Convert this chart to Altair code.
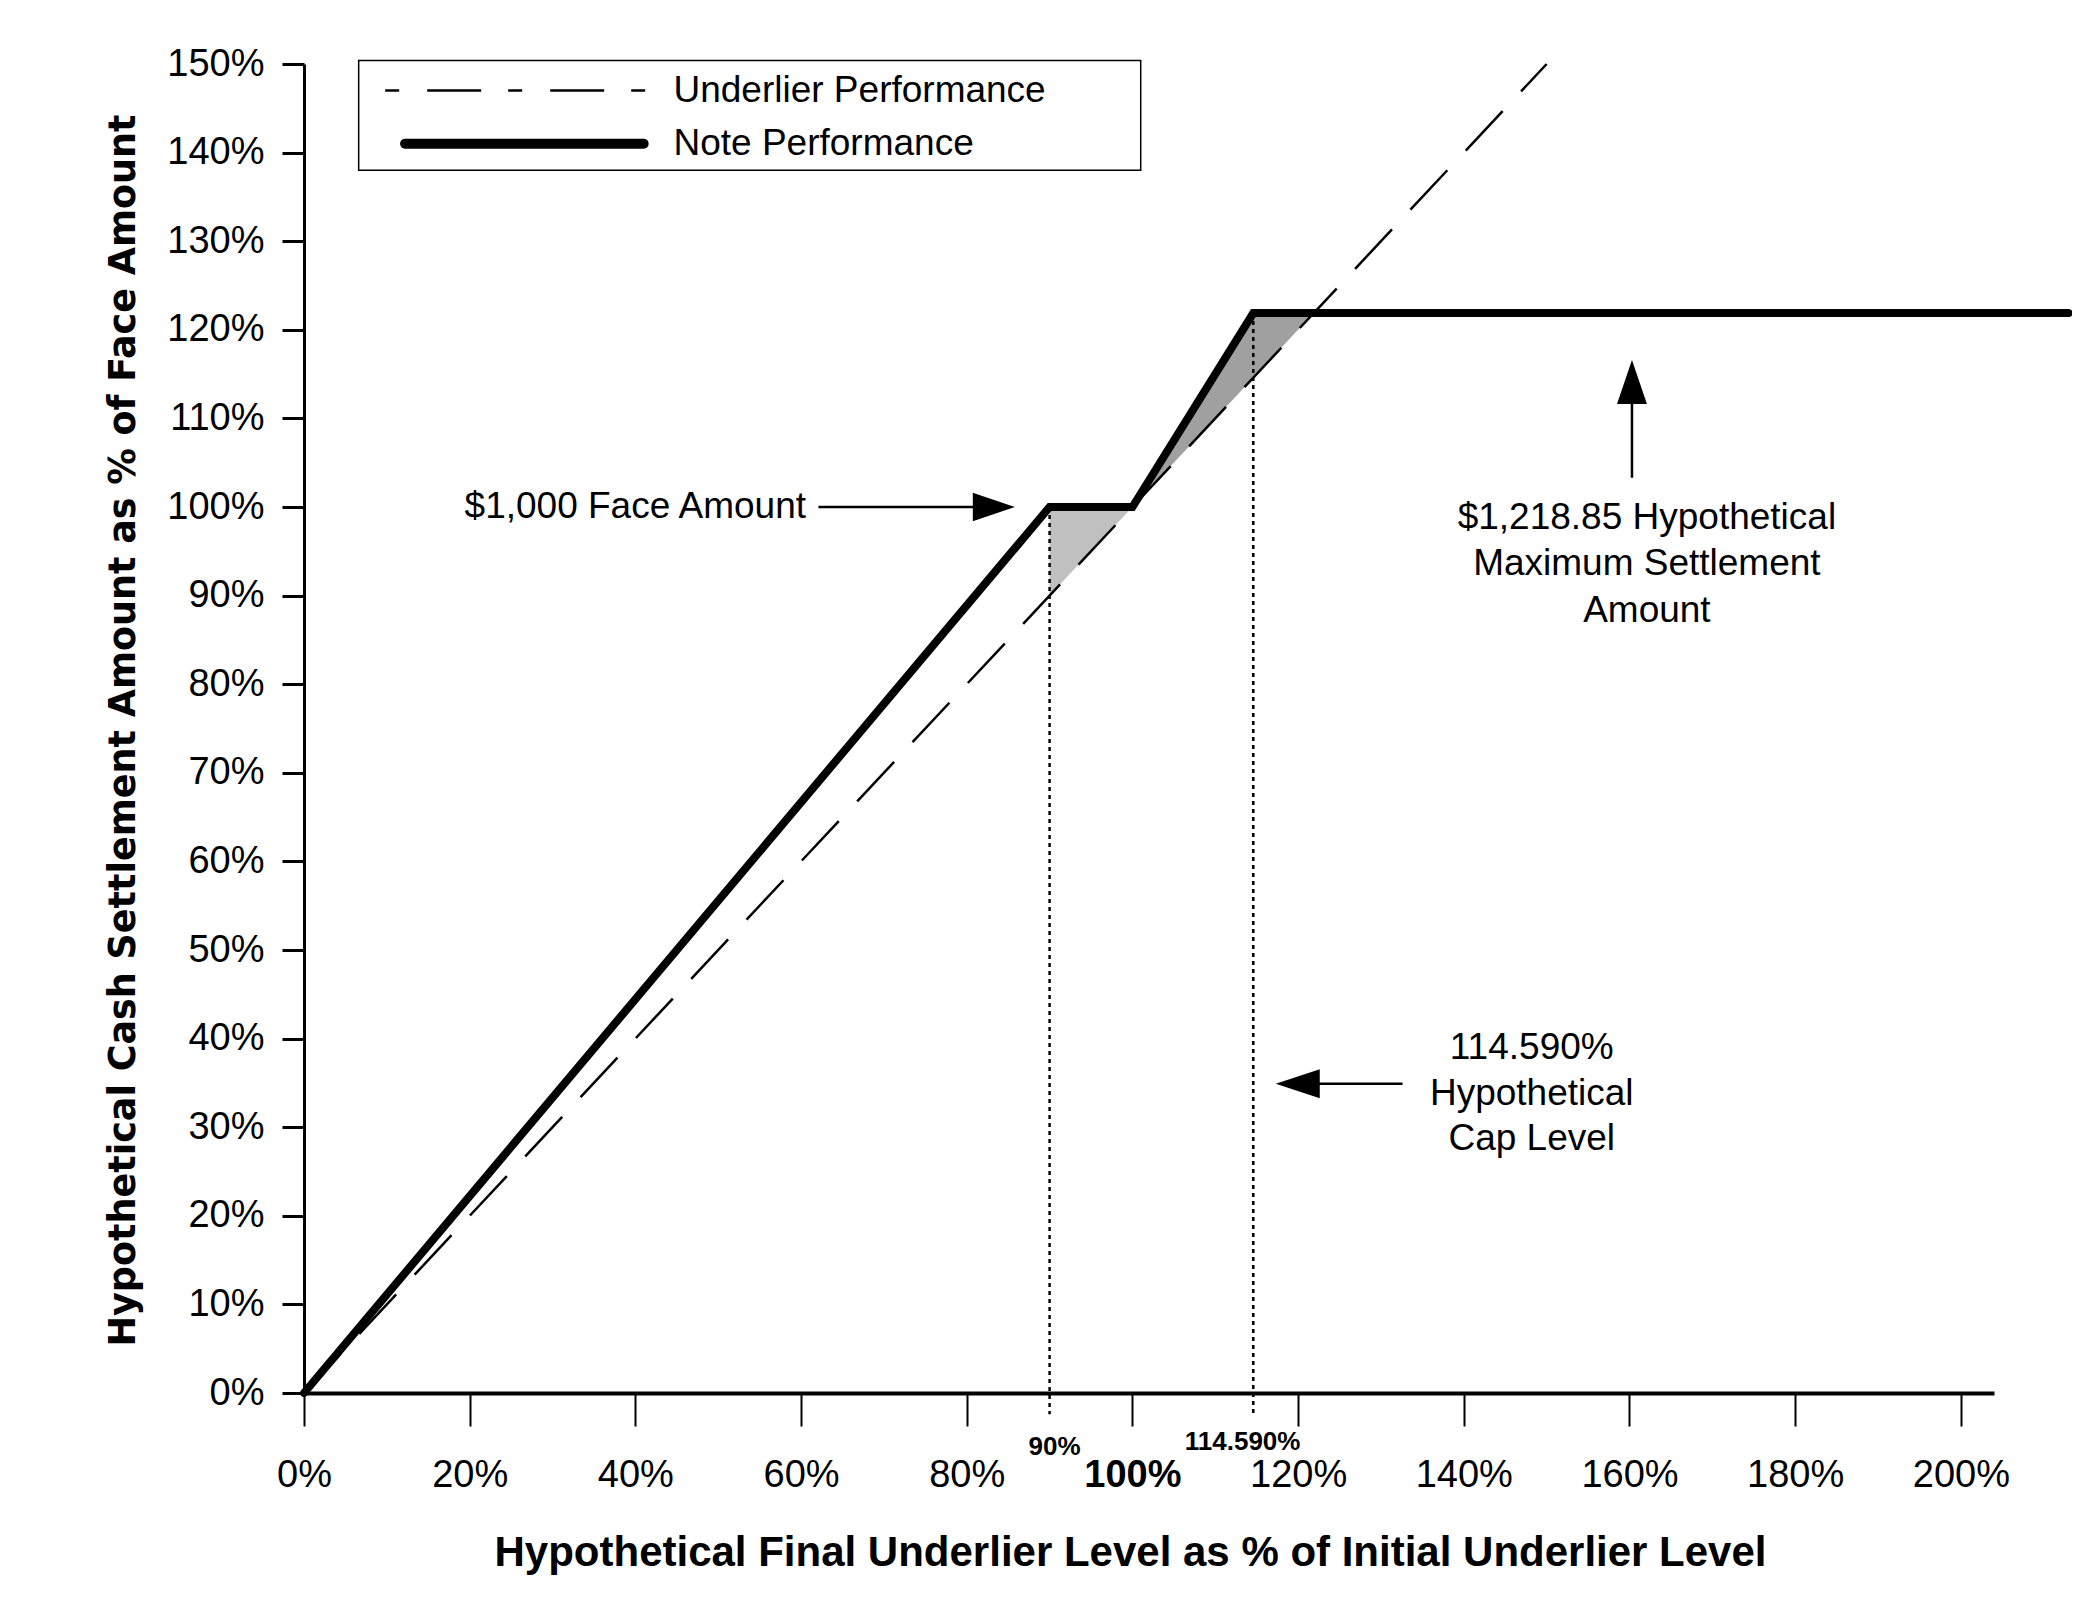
import altair as alt
import pandas as pd

# ---- data (percent units) ----
note_x = [0, 90, 100, 114.59, 213]
note_y = [0, 100, 100, 121.885, 121.885]
under_x = [0, 150]
under_y = [0, 150]
shade1_x = [90, 100]
shade1_top = [100, 100]
shade1_bot = [90, 100]
shade2_x = [100, 114.59, 121.885]
shade2_top = [100, 121.885, 121.885]
shade2_bot = [100, 114.59, 121.885]
dotted_x = [90, 114.59]
dotted_top = [100, 121.885]
x_ticks = [0, 20, 40, 60, 80, 100, 120, 140, 160, 180, 200]
y_ticks = [0, 10, 20, 30, 40, 50, 60, 70, 80, 90, 100, 110, 120, 130, 140, 150]
extra_tick_x = [90.6, 113.3]
extra_tick_text = ["90%", "114.590%"]
legend_labels = ["Underlier Performance", "Note Performance"]

X_TITLE = "Hypothetical Final Underlier Level as % of Initial Underlier Level"
Y_TITLE = "Hypothetical Cash Settlement Amount as % of Face Amount"

FONT = "Liberation Sans"
W, H = 1690, 1329

xs = alt.Scale(domain=[0, 204], nice=False, zero=False)
ys = alt.Scale(domain=[0, 150], nice=False, zero=False)

def X(field="x", **kw):
    return alt.X(field, type="quantitative", scale=xs, **kw)

def Y(field="y", **kw):
    return alt.Y(field, type="quantitative", scale=ys, **kw)

x_axis = alt.Axis(
    values=x_ticks, labelExpr="datum.value + '%'",
    title=X_TITLE,
    titleFont=FONT, titleFontSize=42, titleFontWeight="bold", titleColor="black",
    titleX=826, titleY=159, titleAlign="center", titleBaseline="middle",
    labelFont=FONT, labelFontSize=38, labelColor="black", labelPadding=30,
    labelFontWeight=alt.ExprRef("datum.value == 100 ? 'bold' : 'normal'"),
    tickSize=33, tickWidth=2, tickColor="black",
    domainColor="black", domainWidth=4, grid=False, labelFlush=False,
)
y_axis = alt.Axis(
    values=y_ticks, labelExpr="datum.value + '%'",
    title=Y_TITLE,
    titleFont="DejaVu Sans", titleFontSize=36.5, titleFontWeight="bold", titleColor="black",
    titleX=-181, titleY=666, titleAlign="center", titleBaseline="middle", titleAngle=270,
    labelFont=FONT, labelFontSize=38, labelColor="black", labelPadding=18,
    tickSize=22, tickWidth=3, tickColor="black",
    domainColor="black", domainWidth=3, grid=False, labelFlush=False,
)

base_axes = alt.Chart(pd.DataFrame({"x": [0], "y": [0]})).mark_point(opacity=0).encode(
    x=alt.X("x", type="quantitative", scale=xs, axis=x_axis, title=X_TITLE),
    y=alt.Y("y", type="quantitative", scale=ys, axis=y_axis, title=Y_TITLE),
)

s1 = pd.DataFrame({"x": shade1_x, "top": shade1_top, "bot": shade1_bot})
s2 = pd.DataFrame({"x": shade2_x, "top": shade2_top, "bot": shade2_bot})
shade1 = alt.Chart(s1).mark_area(color="#c0c0c0", opacity=1).encode(x=X(), y=Y("top"), y2="bot")
shade2 = alt.Chart(s2).mark_area(color="#a0a0a0", opacity=1).encode(x=X(), y=Y("top"), y2="bot")

under = alt.Chart(pd.DataFrame({"x": under_x, "y": under_y})).mark_line(
    color="black", strokeWidth=2.5, strokeDash=[54, 27], clip=False
).encode(x=X(), y=Y())

dots = alt.Chart(pd.DataFrame({"x": dotted_x, "top": dotted_top, "bot": [-2.4, -2.4]})).mark_rule(
    color="black", strokeWidth=2.5, strokeDash=[4, 4], clip=False
).encode(x=X(), y=Y("top"), y2="bot")

note = alt.Chart(pd.DataFrame({"x": note_x, "y": note_y})).mark_line(
    color="black", strokeWidth=8, strokeCap="round", strokeJoin="miter", clip=False
).encode(x=X(), y=Y())

extra_lbl = alt.Chart(pd.DataFrame({"x": extra_tick_x, "t": extra_tick_text, "y": [-6.1, -5.5]})).mark_text(
    font=FONT, fontSize=26, fontWeight="bold", color="black", clip=False
).encode(x=X(), y=Y(), text="t:N")

# ---- annotations ----
arrows = pd.DataFrame({
    "x": [62.1, 160.3, 132.6],
    "y": [100, 103.3, 34.9],
    "x2": [85.0, 160.3, 119.0],
    "y2": [100, 113.0, 34.9],
})
arrow_lines = alt.Chart(arrows).mark_rule(color="black", strokeWidth=2.5, clip=False).encode(
    x=X(), y=Y(), x2="x2", y2="y2"
)
head_right = alt.Chart(pd.DataFrame({"x": [85.8], "y": [100]})).mark_point(
    shape="M0,0 L-1,-0.34 L-1,0.34 Z", size=7056, filled=True, color="black", opacity=1, clip=False
).encode(x=X(), y=Y())
head_up = alt.Chart(pd.DataFrame({"x": [160.3], "y": [116.6]})).mark_point(
    shape="M0,0 L-0.34,1 L0.34,1 Z", size=7744, filled=True, color="black", opacity=1, clip=False
).encode(x=X(), y=Y())
head_left = alt.Chart(pd.DataFrame({"x": [117.3], "y": [34.9]})).mark_point(
    shape="M0,0 L1,-0.33 L1,0.33 Z", size=7744, filled=True, color="black", opacity=1, clip=False
).encode(x=X(), y=Y())

TXT = dict(font=FONT, fontSize=37, color="black", baseline="middle", clip=False)

face_txt = alt.Chart(pd.DataFrame({"x": [60.6], "y": [100], "t": ["$1,000 Face Amount"]})).mark_text(
    align="right", **TXT
).encode(x=X(), y=Y(), text="t:N")

max_txt = alt.Chart(pd.DataFrame({
    "x": [162.1, 162.1, 162.1], "y": [98.8, 93.6, 88.3],
    "t": ["$1,218.85 Hypothetical", "Maximum Settlement", "Amount"],
})).mark_text(align="center", **TXT).encode(x=X(), y=Y(), text="t:N")

cap_txt = alt.Chart(pd.DataFrame({
    "x": [148.2, 148.2, 148.2], "y": [38.9, 33.8, 28.7],
    "t": ["114.590%", "Hypothetical", "Cap Level"],
})).mark_text(align="center", **TXT).encode(x=X(), y=Y(), text="t:N")

# ---- legend (drawn box) ----
legend_box = alt.Chart(pd.DataFrame({"x": [6.6], "x2": [101.0], "y": [150.4], "y2": [138.0]})).mark_rect(
    fill="white", stroke="black", strokeWidth=1.5, clip=False
).encode(x=X(), x2="x2", y=Y(), y2="y2")
leg_dash = alt.Chart(pd.DataFrame({"x": [9.8, 41.8], "y": [147, 147]})).mark_line(
    color="black", strokeWidth=2.5, strokeDash=[14, 28, 54, 27], clip=False
).encode(x=X(), y=Y())
leg_solid = alt.Chart(pd.DataFrame({"x": [12.2, 41.0], "y": [141, 141]})).mark_line(
    color="black", strokeWidth=10, strokeCap="round", clip=False
).encode(x=X(), y=Y())
leg_txt = alt.Chart(pd.DataFrame({"x": [44.6, 44.6], "y": [147, 141], "t": legend_labels})).mark_text(
    align="left", **TXT
).encode(x=X(), y=Y(), text="t:N")

chart = alt.layer(
    base_axes, shade1, shade2, under, dots, note, extra_lbl,
    arrow_lines, head_right, head_up, head_left, face_txt, max_txt, cap_txt,
    legend_box, leg_dash, leg_solid, leg_txt,
).properties(
    width=W, height=H,
    background="white",
    autosize=alt.AutoSizeParams(type="none"),
    padding={"left": 296, "top": 56, "right": 78, "bottom": 218},
).configure_view(stroke="transparent", strokeWidth=0)

chart.save("out.html", embed_options={"renderer": "svg", "actions": False})
